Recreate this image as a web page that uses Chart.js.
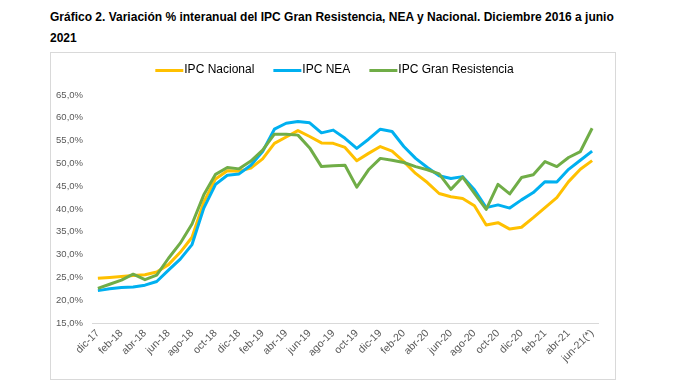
<!DOCTYPE html>
<html><head><meta charset="utf-8">
<script src="https://cdn.jsdelivr.net/npm/chart.js@4.4.1/dist/chart.umd.min.js"></script>
<style>
html,body{margin:0;padding:0;background:#fff;width:673px;height:382px;overflow:hidden;}
#title{position:absolute;left:50px;top:7px;font-family:"Liberation Sans",Arial,sans-serif;font-weight:bold;font-size:12px;line-height:21px;color:#000;white-space:nowrap;}
#chart{position:absolute;left:50px;top:52px;}
#box{position:absolute;left:50px;top:52px;width:566px;height:328px;border:1px solid #d9d9d9;box-sizing:border-box;pointer-events:none;}
</style>
</head><body>
<div id="title">Gráfico 2. Variación % interanual del IPC Gran Resistencia, NEA y Nacional. Diciembre 2016 a junio<br>2021</div>
<canvas id="chart" width="566" height="328"></canvas>
<div id="box"></div>
<script>
const categories = ["dic-17","ene-18","feb-18","mar-18","abr-18","may-18","jun-18","jul-18","ago-18","sep-18","oct-18","nov-18",
"dic-18","ene-19","feb-19","mar-19","abr-19","may-19","jun-19","jul-19","ago-19","sep-19","oct-19","nov-19",
"dic-19","ene-20","feb-20","mar-20","abr-20","may-20","jun-20","jul-20","ago-20","sep-20","oct-20","nov-20",
"dic-20","ene-21","feb-21","mar-21","abr-21","may-21","jun-21(*)"];
const ipcNacional = [24.8,25.0,25.2,25.4,25.6,26.2,27.8,30.5,33.8,41.5,46.6,48.4,48.3,49.0,51.0,54.4,55.8,57.2,55.9,54.5,54.4,53.5,50.6,52.2,53.7,52.7,50.4,47.8,45.8,43.4,42.7,42.3,40.7,36.5,37.0,35.6,36.0,38.1,40.3,42.5,46.0,48.7,50.6];
const ipcNEA = [22.1,22.5,22.8,22.9,23.3,24.1,26.6,29.0,32.2,40.2,45.4,47.4,47.7,49.6,52.6,57.5,58.8,59.2,58.9,56.7,57.3,55.5,53.3,55.3,57.5,57.0,53.7,51.1,49.1,47.3,46.7,47.1,44.2,40.3,40.9,40.2,42.0,43.6,46.0,45.9,48.7,50.7,52.7];
const ipcGranResistencia = [22.6,23.5,24.4,25.7,24.5,25.5,29.2,32.5,36.7,43.1,47.6,49.1,48.8,50.5,52.9,56.4,56.4,56.2,53.4,49.3,49.5,49.6,44.8,48.6,51.1,50.7,50.2,49.3,48.6,47.7,44.3,47.0,43.4,39.9,45.4,43.3,46.9,47.5,50.4,49.3,51.3,52.6,57.7];
const seriesNames = ["IPC Nacional","IPC NEA","IPC Gran Resistencia"];
const yTicks = [15,20,25,30,35,40,45,50,55,60,65];

const colors = ["#FFC000","#00B0F0","#70AD47"];
const font = "'Liberation Sans', Arial, sans-serif";

// legend sample: a 28px line placed so that it ends right before the label text
function legendLine(color) {
  const c = document.createElement('canvas');
  c.width = 60; c.height = 3;
  const g = c.getContext('2d');
  g.fillStyle = color;
  g.fillRect(18, 0, 28, 3);
  return c;
}
const mk = (i, data, order) => ({
  label: seriesNames[i], data, borderColor: colors[i], backgroundColor: colors[i],
  borderWidth: 3, pointRadius: 0, pointHoverRadius: 0, tension: 0, order,
  borderCapStyle: 'butt', borderJoinStyle: 'round', pointStyle: legendLine(colors[i])
});
const legendPos = {
  id: 'legendPos',
  afterLayout(c) {
    const L = c.legend; if (!L) return;
    const p = L.options.labels.padding;
    const dy = 18 - (L.top + p + 6);
    L.top += dy; L.bottom += dy; L.left += 11; L.right += 11;
  }
};
const chart = new Chart(document.getElementById('chart'), {
  type: 'line',
  data: { labels: categories, datasets: [mk(0, ipcNacional, 3), mk(1, ipcNEA, 2), mk(2, ipcGranResistencia, 1)] },
  plugins: [legendPos],
  options: {
    responsive: false, animation: false, devicePixelRatio: 1,
    layout: { padding: { left: 0, right: 18, top: 6, bottom: 0 } },
    plugins: {
      tooltip: { enabled: false },
      legend: {
        position: 'top',
        labels: { font: { family: font, size: 12 }, color: '#000', usePointStyle: true, pointStyleWidth: 22, boxHeight: 3, padding: 20,
          sort: (a, b) => a.datasetIndex - b.datasetIndex }
      }
    },
    scales: {
      x: {
        offset: true,
        grid: { display: false, drawTicks: false },
        border: { display: true, color: '#d9d9d9', width: 1 },
        ticks: {
          autoSkip: false, maxRotation: 45, minRotation: 45, padding: 4,
          font: { family: font, size: 10.5 }, color: '#595959',
          callback: (v, i) => (i % 2 === 0 ? categories[i] : '')
        },
        afterFit: s => { s.height = 57; }
      },
      y: {
        min: yTicks[0], max: yTicks[yTicks.length - 1],
        grid: { display: false, drawTicks: false },
        border: { display: false },
        afterBuildTicks: s => { s.ticks = yTicks.map(v => ({ value: v })); },
        ticks: {
          padding: 9, font: { family: font, size: 9.5 }, color: '#595959',
          callback: v => v.toFixed(1).replace('.', ',') + '%'
        },
        afterFit: s => { s.width = 42; }
      }
    }
  }
});
const d = 43 - chart.chartArea.top;
if (d !== 0) { chart.options.layout.padding.top += d; chart.update('none'); }
</script>
</body></html>
